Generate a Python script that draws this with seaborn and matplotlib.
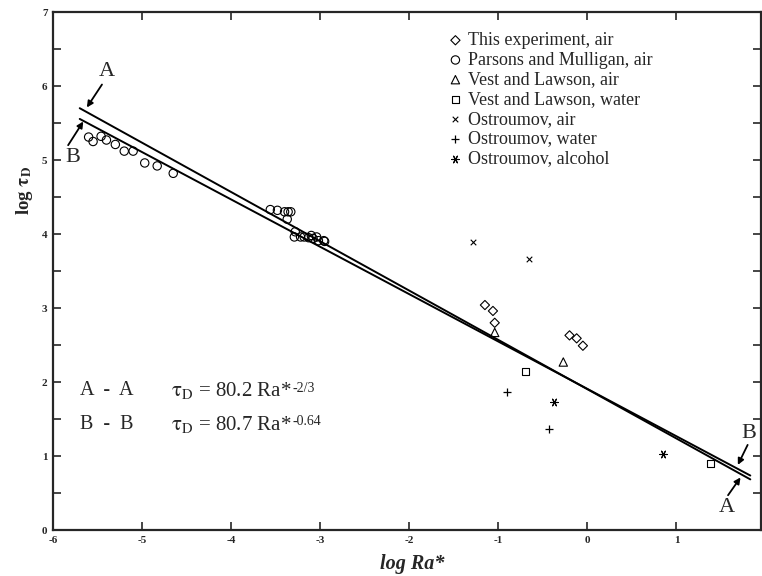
import matplotlib
matplotlib.use("Agg")
import matplotlib.pyplot as plt
import seaborn as sns
import numpy as np
import pandas as pd
from matplotlib.ticker import MultipleLocator

# ---- data ----
this_x = [-1.15, -1.06, -1.04, -0.20, -0.12, -0.05]
this_y = [3.04, 2.96, 2.80, 2.63, 2.59, 2.49]

pm_x = [-5.60, -5.55, -5.46, -5.40, -5.30, -5.20, -5.10, -4.97, -4.83, -4.65,
        -3.56, -3.48, -3.40, -3.36, -3.33, -3.37, -3.28, -3.29, -3.22, -3.18,
        -3.13, -3.10, -3.08, -3.04, -3.02, -2.96, -2.95]
pm_y = [5.31, 5.25, 5.32, 5.27, 5.21, 5.12, 5.12, 4.96, 4.92, 4.82,
        4.33, 4.32, 4.30, 4.30, 4.30, 4.20, 4.03, 3.96, 3.96, 3.96,
        3.95, 3.98, 3.94, 3.96, 3.91, 3.91, 3.90]

vla_x = [-1.04, -0.27]
vla_y = [2.67, 2.27]

vlw_x = [-0.69, 1.38]
vlw_y = [2.14, 0.90]

oa_x = [-1.28, -0.65]
oa_y = [3.89, 3.66]

ow_x = [-0.90, -0.43]
ow_y = [1.87, 1.37]

oal_x = [-0.37, 0.85]
oal_y = [1.73, 1.03]

# fitted lines (end points)
lineA_x = [-5.70, 1.83]
lineA_y = [5.70, 0.684]
lineB_x = [-5.70, 1.83]
lineB_y = [5.555, 0.736]

series_labels = ["This experiment, air", "Parsons and Mulligan, air",
                 "Vest and Lawson, air", "Vest and Lawson, water",
                 "Ostroumov, air", "Ostroumov, water", "Ostroumov, alcohol"]

x_ticks = [-6, -5, -4, -3, -2, -1, 0, 1]
y_ticks = [0, 1, 2, 3, 4, 5, 6, 7]

# ---- style ----
sns.set_style("ticks")
plt.rcParams["font.family"] = ["Liberation Serif", "DejaVu Serif"]
plt.rcParams["mathtext.fontset"] = "stix"
plt.rcParams["axes.unicode_minus"] = False

fig = plt.figure(figsize=(7.62, 5.76), dpi=100)
ax = fig.add_axes([53 / 762, 46 / 576, (761 - 53) / 762, (530 - 12) / 576])

# fit lines
lines_df = pd.DataFrame({"x": lineA_x + lineB_x, "y": lineA_y + lineB_y,
                         "fit": ["A"] * 2 + ["B"] * 2})
sns.lineplot(data=lines_df, x="x", y="y", units="fit", estimator=None,
             color="black", lw=1.4, ax=ax, legend=False)

open_kw = dict(facecolor="none", edgecolor="black", linewidth=0.8)
sns.scatterplot(x=this_x, y=this_y, marker="D", s=22, ax=ax, label=series_labels[0], **open_kw)
sns.scatterplot(x=pm_x, y=pm_y, marker="o", s=36, ax=ax, label=series_labels[1], **open_kw)
sns.scatterplot(x=vla_x, y=vla_y, marker="^", s=36, ax=ax, label=series_labels[2], **open_kw)
sns.scatterplot(x=vlw_x, y=vlw_y, marker="s", s=24, ax=ax, label=series_labels[3], **open_kw)
sns.scatterplot(x=oa_x, y=oa_y, marker="x", s=16, color="black", linewidth=0.8, ax=ax, label=series_labels[4])
sns.scatterplot(x=ow_x, y=ow_y, marker="+", s=40, color="black", linewidth=0.9, ax=ax, label=series_labels[5])
sns.scatterplot(x=oal_x, y=oal_y, marker=(6, 2, 30), s=30, color="black", linewidth=0.8, ax=ax, label=series_labels[6])

ax.set_xlim(-6, 1.95)
ax.set_ylim(0, 7)
ax.set_xticks(x_ticks)
ax.set_yticks(y_ticks)
ax.yaxis.set_minor_locator(MultipleLocator(0.5))
ax.tick_params(which="both", direction="in", top=True, right=True, length=6, width=1.2,
               labelsize=8, pad=4)
ax.tick_params(axis="x", which="minor", bottom=False, top=False)
for lab in ax.get_xticklabels() + ax.get_yticklabels():
    lab.set_fontweight("bold")
for s in ax.spines.values():
    s.set_linewidth(1.6)
    s.set_visible(True)

ax.set_xlabel("log Ra*", fontsize=14.5, fontweight="bold", fontstyle="italic")
ax.set_ylabel(r"log $\mathbf{\tau_D}$", fontsize=13.5, fontweight="bold")
ax.xaxis.set_label_coords(0.508, -0.047)
ax.yaxis.set_label_coords(-0.026, 0.655)

leg = ax.legend(loc="upper left", bbox_to_anchor=(450 / 762, 1 - 32 / 576),
                bbox_transform=fig.transFigure, frameon=False, fontsize=13,
                handlelength=0.6, handletextpad=0.4, labelspacing=0.15,
                borderaxespad=0, borderpad=0)

# equation annotations
ax.text(-5.7, 1.88, "A  -  A", fontsize=14.5, va="center", ha="left")
ax.text(-5.7, 1.43, "B  -  B", fontsize=14.5, va="center", ha="left")
eq1 = ax.text(-4.67, 1.88, r"$\mathrm{\tau_D}$ = 80.2 Ra*", fontsize=15, va="center", ha="left")
eq2 = ax.text(-4.67, 1.43, r"$\mathrm{\tau_D}$ = 80.7 Ra*", fontsize=15, va="center", ha="left")
fig.canvas.draw()
rend = fig.canvas.get_renderer()
for eq, sup in [(eq1, "-2/3"), (eq2, "-0.64")]:
    bb = eq.get_window_extent(rend)
    fig.text(bb.x1 + 1, bb.y1 - 8, sup, fontsize=10, ha="left", va="center",
             transform=None)

arrow = dict(arrowstyle="-|>", color="black", lw=1.3, mutation_scale=9, shrinkA=0, shrinkB=0)
ax.text(-5.39, 6.19, "A", fontsize=16, ha="center", va="center")
ax.annotate("", xy=(-5.62, 5.71), xytext=(-5.45, 6.02), arrowprops=arrow)
ax.text(-5.78, 5.03, "B", fontsize=16, ha="center", va="center")
ax.annotate("", xy=(-5.66, 5.52), xytext=(-5.83, 5.20), arrowprops=arrow)
ax.text(1.81, 1.31, "B", fontsize=16, ha="center", va="center")
ax.annotate("", xy=(1.69, 0.88), xytext=(1.80, 1.15), arrowprops=arrow)
ax.text(1.57, 0.31, "A", fontsize=16, ha="center", va="center")
ax.annotate("", xy=(1.72, 0.71), xytext=(1.58, 0.47), arrowprops=arrow)

fig.savefig("out.png", dpi=100)
